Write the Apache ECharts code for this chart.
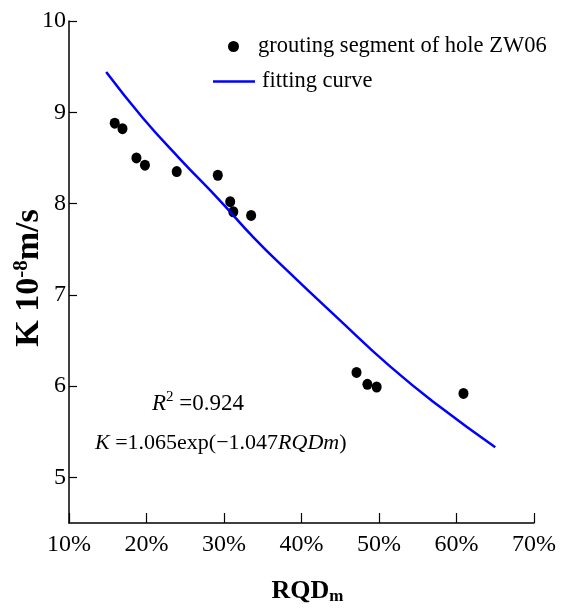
<!DOCTYPE html>
<html><head><meta charset="utf-8">
<script src="https://cdn.jsdelivr.net/npm/echarts@6/dist/echarts.min.js"></script>
<style>html,body{margin:0;padding:0;background:#fff}#c{width:568px;height:609px}</style>
</head><body><div id="c"></div>
<script>
// Measured points: RQDm (%) and K (10^-8 m/s)
const rqd = [15.9, 16.9, 18.7, 19.8, 23.9, 29.2, 30.8, 31.2, 33.5, 47.1, 48.5, 49.7, 60.9];
const kVal = [8.88, 8.82, 8.50, 8.42, 8.35, 8.31, 8.02, 7.91, 7.87, 6.15, 6.02, 5.99, 5.92];
// Fitting curve
const curveX = [14.8, 19.5, 24.3, 29.5, 33.8, 38.1, 44.6, 51.5, 57.9, 65.0];
const curveY = [9.44, 8.94, 8.49, 8.03, 7.63, 7.27, 6.75, 6.21, 5.77, 5.33];
const xTicks = [10, 20, 30, 40, 50, 60, 70];
const yTicks = [5, 6, 7, 8, 9, 10];
const seriesNames = ['grouting segment of hole ZW06', 'fitting curve'];

const font = 'Liberation Serif';
const chart = echarts.init(document.getElementById('c'), null, {renderer: 'canvas'});
chart.setOption({
  animation: false,
  backgroundColor: '#fff',
  grid: {left: 69, right: 34, top: 21, bottom: 86, containLabel: false, outerBoundsMode: 'none'},
  legend: [
    {data: [seriesNames[0]], left: 223, top: 30, icon: 'circle', itemWidth: 11, itemHeight: 12, itemGap: 19,
     textStyle: {fontFamily: font, fontSize: 22.5, color: '#000', letterSpacing: -0.8, padding: [0, 0, 0, 14]}},
    {data: [{name: seriesNames[1], itemStyle: {color: '#0000ff'}}], left: 208, top: 65, icon: 'rect',
     itemWidth: 42, itemHeight: 2.5, itemGap: 7,
     textStyle: {fontFamily: font, fontSize: 22.5, color: '#000', letterSpacing: -0.8, padding: [0, 0, 0, 2]}}
  ],
  xAxis: {
    type: 'value', min: 10, max: 70, interval: 10,
    axisLine: {show: true, onZero: false, lineStyle: {color: '#000', width: 1.5}},
    axisTick: {show: true, inside: true, length: 10, lineStyle: {color: '#000', width: 1.2}},
    axisLabel: {formatter: v => v + '%', fontFamily: font, fontSize: 24, color: '#000', margin: 10, letterSpacing: -1},
    splitLine: {show: false},
    name: '{b|RQD}{s|m}', nameLocation: 'middle', nameGap: 55,
    nameTextStyle: {padding: [0, 0, 0, 12], rich: {
      b: {fontFamily: font, fontSize: 26, fontWeight: 'bold', color: '#000', letterSpacing: -1},
      s: {fontFamily: font, fontSize: 17, fontWeight: 'bold', color: '#000', padding: [10, 0, 0, 0]}
    }}
  },
  yAxis: {
    type: 'value', min: 4.5, max: 10,
    axisLine: {show: true, onZero: false, lineStyle: {color: '#000', width: 1.5}},
    axisTick: {show: true, inside: true, length: 8, customValues: yTicks, lineStyle: {color: '#000', width: 1.2}},
    axisLabel: {customValues: yTicks, formatter: v => String(v), fontFamily: font, fontSize: 24, color: '#000', margin: 3, letterSpacing: -1},
    splitLine: {show: false},
    name: '{b|K 10}{s|-8}{b|m/s}', nameLocation: 'middle', nameGap: 22, nameRotate: 90, nameMoveOverlap: false,
    nameTextStyle: {padding: [0, 12, 0, 0], rich: {
      b: {fontFamily: font, fontSize: 34, fontWeight: 'bold', color: '#000'},
      s: {fontFamily: font, fontSize: 21, fontWeight: 'bold', color: '#000', padding: [0, 0, 15, 0]}
    }}
  },
  series: [
    {name: seriesNames[0], type: 'scatter', data: rqd.map((x, i) => [x, kVal[i]]),
     symbol: 'circle', symbolSize: [10, 11], itemStyle: {color: '#000', opacity: 1}},
    {name: seriesNames[1], type: 'line', data: curveX.map((x, i) => [x, curveY[i]]),
     smooth: true, symbol: 'none', lineStyle: {color: '#0000ff', width: 2.5}, itemStyle: {color: '#0000ff'}}
  ],
  graphic: [
    {type: 'text', left: 152, top: 390, style: {
      text: '{i|R}{sup|2}{n| =0.924}', rich: {
        i: {fontFamily: font, fontSize: 23, fontStyle: 'italic', fill: '#000'},
        sup: {fontFamily: font, fontSize: 15, fill: '#000', padding: [0, 0, 12, 0]},
        n: {fontFamily: font, fontSize: 23, fill: '#000', letterSpacing: -2}
      }}},
    {type: 'text', left: 95, top: 432, style: {
      text: '{i|K}{n| =1.065exp(−1.047}{i|RQDm}{n|)}', rich: {
        i: {fontFamily: font, fontSize: 22, fontStyle: 'italic', fill: '#000', letterSpacing: -2},
        n: {fontFamily: font, fontSize: 22, fill: '#000', letterSpacing: -2.4}
      }}}
  ]
});
</script></body></html>
